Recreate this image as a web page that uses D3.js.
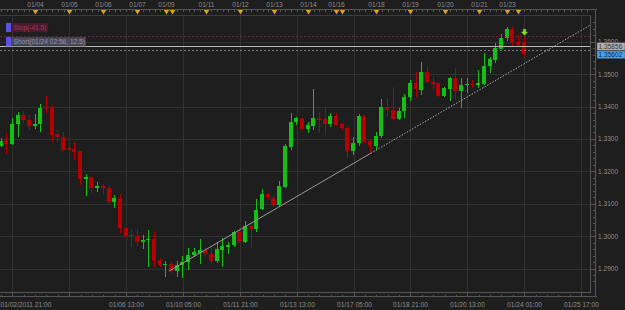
<!DOCTYPE html>
<html>
<head>
<meta charset="utf-8">
<script src="https://cdn.jsdelivr.net/npm/d3@7"></script>
<style>
  html, body { margin: 0; padding: 0; background: #1e1e1e; }
  svg { display: block; font-family: "Liberation Sans", Arial, sans-serif; }
</style>
</head>
<body>
<svg id="chart" width="625" height="310"></svg>
<script>
// 4H candles, one per index
const opens = [1.32780,1.32956,1.32842,1.33450,1.33738,1.33583,1.33407,1.33450,1.33994,1.33954,
  1.33141,1.33058,1.32709,1.32687,1.32626,1.31770,1.31823,1.31483,1.31545,1.31492,
  1.31060,1.31183,1.30257,1.30031,1.30001,1.29825,1.29877,1.29908,1.29250,1.29096,
  1.29136,1.28929,1.29105,1.29176,1.29405,1.29485,1.29568,1.29445,1.29238,1.29568,
  1.29670,1.29723,1.30133,1.29825,1.30319,1.30208,1.30825,1.31288,1.31183,1.30958,
  1.31523,1.32758,1.33500,1.33636,1.33296,1.33398,1.33654,1.33605,1.33460,1.33707,
  1.33460,1.33327,1.32626,1.32882,1.33716,1.32935,1.32780,1.33089,1.33975,1.33892,
  1.33614,1.33839,1.34272,1.34716,1.34531,1.35075,1.34766,1.34716,1.34324,1.34540,
  1.34889,1.34479,1.34655,1.34695,1.34655,1.34695,1.35229,1.35436,1.35797,1.36106,
  1.36393,1.36001,1.35952];
const highs = [1.33027,1.33172,1.33654,1.33830,1.33870,1.33738,1.33759,1.34077,1.34324,1.34046,
  1.33274,1.33222,1.32780,1.32904,1.32641,1.31915,1.31838,1.31678,1.31597,1.31566,
  1.31267,1.31298,1.30288,1.30208,1.30208,1.30022,1.30186,1.30133,1.29312,1.29229,
  1.29207,1.29238,1.29383,1.29621,1.29639,1.29899,1.29621,1.29621,1.29825,1.29930,
  1.29825,1.30164,1.30186,1.30473,1.30393,1.31143,1.31443,1.31338,1.31267,1.31699,
  1.32842,1.33808,1.33685,1.33645,1.33530,1.34540,1.33839,1.33994,1.33790,1.33790,
  1.33481,1.33358,1.33067,1.33768,1.33738,1.32965,1.33222,1.34222,1.34253,1.34602,
  1.33944,1.34386,1.34818,1.35075,1.35384,1.35229,1.34920,1.34726,1.34611,1.34920,
  1.35198,1.34871,1.34871,1.34818,1.35127,1.35662,1.35538,1.35952,1.36239,1.36446,
  1.36455,1.36208,1.36177];
const lows = [1.32749,1.32533,1.32811,1.33067,1.33481,1.33274,1.33305,1.33203,1.33790,1.32894,
  1.32913,1.32635,1.32616,1.32349,1.31585,1.31245,1.31319,1.31369,1.31267,1.30989,
  1.30856,1.30084,1.29979,1.29670,1.29701,1.29599,1.29053,1.29053,1.29034,1.28744,
  1.28849,1.28744,1.28694,1.28951,1.29343,1.29127,1.29361,1.29158,1.29158,1.29053,
  1.29445,1.29652,1.29794,1.29775,1.29621,1.30133,1.30804,1.31112,1.30905,1.30905,
  1.31474,1.32657,1.33429,1.33274,1.33172,1.33274,1.33191,1.33120,1.33376,1.33398,
  1.33274,1.32400,1.32502,1.32780,1.32882,1.32555,1.32657,1.33018,1.33685,1.33583,
  1.33583,1.33654,1.34179,1.34303,1.34355,1.34716,1.34479,1.34303,1.34284,1.34170,
  1.34201,1.33963,1.34408,1.34611,1.34562,1.34664,1.35025,1.35334,1.35767,1.36032,
  1.35847,1.35847,1.35538];
const closes = [1.32935,1.32842,1.33460,1.33738,1.33583,1.33407,1.33469,1.33954,1.33954,1.33120,
  1.33049,1.32666,1.32657,1.32604,1.31770,1.31823,1.31492,1.31545,1.31483,1.31060,
  1.31183,1.30257,1.30010,1.30001,1.29825,1.29877,1.29908,1.29229,1.29083,1.29136,
  1.28929,1.29105,1.29188,1.29405,1.29507,1.29578,1.29445,1.29238,1.29599,1.29692,
  1.29732,1.30133,1.29825,1.30319,1.30217,1.30804,1.31288,1.31183,1.30958,1.31545,
  1.32780,1.33530,1.33636,1.33296,1.33429,1.33654,1.33605,1.33460,1.33707,1.33429,
  1.33327,1.32626,1.32882,1.33716,1.32913,1.32780,1.33089,1.33994,1.33870,1.33614,
  1.33870,1.34284,1.34716,1.34540,1.35075,1.34766,1.34716,1.34324,1.34562,1.34889,
  1.34479,1.34664,1.34695,1.34655,1.34716,1.35251,1.35458,1.35816,1.36125,1.36393,
  1.36001,1.35899,1.35602];

// axis ticks
const priceTicks = [1.29, 1.30, 1.31, 1.32, 1.33, 1.34, 1.35, 1.36];
const timeTicks = [2, 12, 22, 32, 42, 52, 62, 72, 82, 92, 102];
const timeLabels = ["01/02/2011 21:00", "", "01/06 13:00", "01/10 05:00", "01/11 21:00", "01/13 13:00",
  "01/17 05:00", "01/18 21:00", "01/20 13:00", "01/24 01:00", "01/25 17:00"];
const dayTicks = [6, 12, 18, 24, 29, 30, 36, 42, 48, 54, 59, 60, 66, 72, 78, 84, 89, 91];
const dayLabels = ["01/04", "01/05", "01/06", "01/07", "01/09", "", "01/11", "01/12", "01/13", "01/14",
  "01/16", "", "01/18", "01/19", "01/20", "01/21", "01/23", ""];

// orders / tools
const shortPrice = 1.35856;
const stopPrice = 1.36168;
const otherPrice = 1.35736;
const lastPrice = 1.35602;
const trendStart = [29.55, 1.28920];
const trendAnchor = [65, 1.32555];
const trendEnd = [103.6, 1.36513];
const signalIndex = 92;

const svg = d3.select("#chart");
const plotRight = 590.5, plotTop = 15.5, plotBottom = 292.5;
const textColor = "#8c8c8c", gridColor = "#313131", lineColor = "#555";
const upColor = "#14c014", downColor = "#b40000";

const x = d3.scaleLinear().domain([0, 102]).range([1, 581]);
const y = d3.scaleLinear().domain([1.29, 1.35]).range([268.5, 74.2]);
const snap = v => Math.round(v) + 0.5;

svg.append("defs").append("clipPath").attr("id", "plot")
  .append("rect").attr("x", 0).attr("y", plotTop).attr("width", plotRight).attr("height", plotBottom - plotTop);

// grid
const grid = svg.append("g").attr("shape-rendering", "crispEdges").attr("stroke", gridColor);
grid.selectAll(".vg").data(timeTicks).join("line")
  .attr("x1", d => snap(x(d))).attr("x2", d => snap(x(d)))
  .attr("y1", plotTop).attr("y2", plotBottom);
grid.selectAll(".hg").data(priceTicks).join("line")
  .attr("x1", 0).attr("x2", plotRight)
  .attr("y1", d => snap(y(d))).attr("y2", d => snap(y(d)));

// candles
const candles = opens.map((o, i) => ({ i, o, h: highs[i], l: lows[i], c: closes[i] }));
const cg = svg.append("g").attr("clip-path", "url(#plot)").attr("shape-rendering", "crispEdges");
cg.selectAll(".wick").data(candles).join("line")
  .attr("x1", d => Math.floor(x(d.i)) + 0.5).attr("x2", d => Math.floor(x(d.i)) + 0.5)
  .attr("y1", d => Math.round(y(d.h))).attr("y2", d => Math.round(y(d.l)))
  .attr("stroke", d => d.c >= d.o ? upColor : downColor);
cg.selectAll(".body").data(candles).join("rect")
  .attr("x", d => Math.floor(x(d.i)) - 2)
  .attr("width", 4)
  .attr("y", d => Math.round(y(Math.max(d.o, d.c))))
  .attr("height", d => Math.max(1, Math.round(Math.abs(y(d.o) - y(d.c)))))
  .attr("fill", d => d.c >= d.o ? upColor : downColor);

// trend line
const tl = svg.append("g").attr("clip-path", "url(#plot)").attr("fill", "none");
tl.append("line")
  .attr("x1", x(trendStart[0])).attr("y1", y(trendStart[1]))
  .attr("x2", x(trendAnchor[0])).attr("y2", y(trendAnchor[1]))
  .attr("stroke", "#9a9a9a").attr("stroke-width", 1);
tl.append("line")
  .attr("x1", x(trendAnchor[0])).attr("y1", y(trendAnchor[1]))
  .attr("x2", x(trendEnd[0])).attr("y2", y(trendEnd[1]))
  .attr("stroke", "#a8a8a8").attr("stroke-width", 1).attr("stroke-dasharray", "1.5,1.5");

// order lines
const ol = svg.append("g").attr("shape-rendering", "crispEdges");
ol.append("line").attr("x1", 0).attr("x2", plotRight)
  .attr("y1", snap(y(stopPrice))).attr("y2", snap(y(stopPrice)))
  .attr("stroke", "#73243a").attr("stroke-dasharray", "2,2");
ol.append("line").attr("x1", 0).attr("x2", plotRight)
  .attr("y1", snap(y(otherPrice))).attr("y2", snap(y(otherPrice)))
  .attr("stroke", "#767676").attr("stroke-dasharray", "2,2");
ol.append("line").attr("x1", 0).attr("x2", plotRight)
  .attr("y1", snap(y(shortPrice))).attr("y2", snap(y(shortPrice)))
  .attr("stroke", "#b8b8b8");

// order tags
function tag(label, yBottom, w, bg, fg) {
  const g = svg.append("g");
  g.append("rect").attr("x", 6).attr("y", yBottom - 9).attr("width", w).attr("height", 9)
    .attr("fill", bg).attr("stroke", "#2a2a2a").attr("stroke-width", 0.5);
  g.append("rect").attr("x", 6).attr("y", yBottom - 9).attr("width", 5).attr("height", 9).attr("fill", "#5a52e6");
  g.append("text").attr("x", 13.5).attr("y", yBottom - 2).attr("font-size", "6.6px").attr("fill", fg).text(label);
}
tag("Stop(-41.5)", Math.round(y(stopPrice)) - 4, 42, "#4b1b2d", "#a03a5c");
tag("Short(01/24 02:56, 12.5)", Math.round(y(shortPrice)), 80, "#4a4a5a", "#8e8eaa");

// signal arrow
const ax = Math.floor(x(signalIndex)) + 0.5, ay = Math.round(y(highs[signalIndex])) - 0.5;
svg.append("path")
  .attr("d", `M${ax - 1.5},${ay - 6.5}H${ax + 1.5}V${ay - 3.5}H${ax + 3.5}L${ax},${ay}L${ax - 3.5},${ay - 3.5}H${ax - 1.5}Z`)
  .attr("fill", "#8ad62a").attr("stroke", "#4f7a18").attr("stroke-width", 0.5);

// frame
const fr = svg.append("g").attr("shape-rendering", "crispEdges").attr("stroke", lineColor).attr("fill", "none");
fr.append("line").attr("x1", 0).attr("x2", plotRight).attr("y1", plotTop).attr("y2", plotTop).attr("stroke", "#3c3c3c");
fr.append("line").attr("x1", plotRight).attr("x2", plotRight).attr("y1", plotTop).attr("y2", plotBottom);
fr.append("line").attr("x1", 0).attr("x2", plotRight).attr("y1", plotBottom).attr("y2", plotBottom);

// top day strip
const topStrip = svg.append("g");
topStrip.append("line").attr("x1", 0).attr("x2", 597).attr("y1", 9.5).attr("y2", 9.5)
  .attr("stroke", lineColor).attr("shape-rendering", "crispEdges");
topStrip.selectAll(".mt").data(d3.range(0, 104)).join("line")
  .attr("x1", d => snap(x(d))).attr("x2", d => snap(x(d))).attr("y1", 9.5).attr("y2", 11.5)
  .attr("stroke", lineColor).attr("shape-rendering", "crispEdges");
topStrip.selectAll(".dm").data(dayTicks).join("path")
  .attr("d", d => { const cx = snap(x(d)); return `M${cx - 2.7},10L${cx + 2.7},10L${cx},14.5Z`; })
  .attr("fill", "#e0a41c");
topStrip.selectAll(".dl").data(dayTicks).join("text")
  .attr("x", d => snap(x(d))).attr("y", 6.8)
  .attr("text-anchor", "middle").attr("font-size", "6.6px").attr("fill", textColor)
  .text((d, i) => dayLabels[i]);

// bottom time axis
const bot = svg.append("g").attr("shape-rendering", "crispEdges").attr("stroke", lineColor);
bot.append("line").attr("x1", 0).attr("x2", 597).attr("y1", 296.5).attr("y2", 296.5);
bot.selectAll(".bm").data(d3.range(0, 104, 2)).join("line")
  .attr("x1", d => snap(x(d))).attr("x2", d => snap(x(d)))
  .attr("y1", 294.5).attr("y2", 296.5);
bot.selectAll(".bM").data(timeTicks).join("line")
  .attr("x1", d => snap(x(d))).attr("x2", d => snap(x(d)))
  .attr("y1", plotBottom).attr("y2", 296.5);
svg.selectAll(".tl").data(timeTicks).join("text")
  .attr("x", (d, i) => i === 0 ? 0.5 : snap(x(d))).attr("y", 306.8)
  .attr("text-anchor", (d, i) => i === 0 ? "start" : "middle")
  .attr("font-size", "6.6px").attr("fill", textColor)
  .text((d, i) => timeLabels[i]);

// right price axis
const ra = svg.append("g").attr("shape-rendering", "crispEdges").attr("stroke", lineColor);
ra.append("line").attr("x1", 595.5).attr("x2", 595.5).attr("y1", 9.5).attr("y2", 297);
ra.selectAll(".pm").data(d3.range(1.286, 1.3661, 0.002)).join("line")
  .attr("x1", 593).attr("x2", 595.5)
  .attr("y1", d => snap(y(d))).attr("y2", d => snap(y(d)));
ra.selectAll(".pM").data(priceTicks).join("line")
  .attr("x1", 591).attr("x2", 595.5)
  .attr("y1", d => snap(y(d))).attr("y2", d => snap(y(d)));
svg.selectAll(".pl").data(priceTicks).join("text")
  .attr("x", 598).attr("y", d => y(d) + 2.4)
  .attr("font-size", "6.6px").attr("fill", textColor)
  .text(d => d.toFixed(4));

// price boxes
function priceBox(p, bg, fg) {
  const cy = y(p);
  svg.append("rect").attr("x", 597).attr("y", cy - 3.8).attr("width", 28).attr("height", 7.6)
    .attr("fill", bg).attr("stroke", "#555").attr("stroke-width", 0.5);
  svg.append("text").attr("x", 598.5).attr("y", cy + 2.5).attr("font-size", "6.6px").attr("fill", fg)
    .text(p.toFixed(5));
}
priceBox(shortPrice, "#aeaeae", "#383838");
priceBox(lastPrice, "#3fa4f4", "#0d2f55");
</script>
</body>
</html>
